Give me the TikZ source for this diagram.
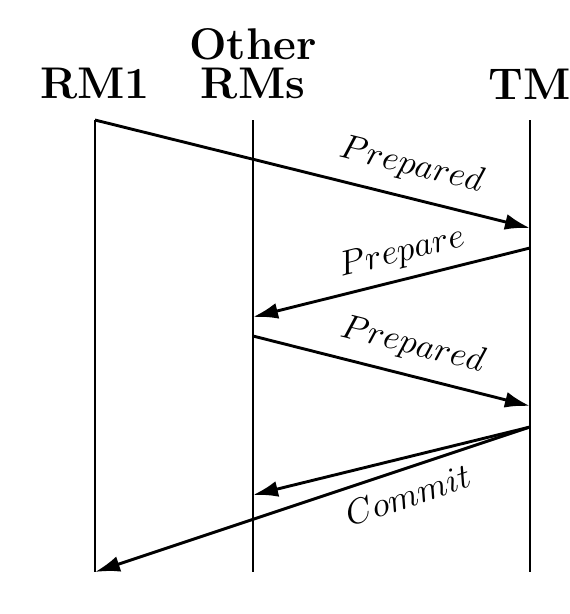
\documentclass[tikz,border=0pt]{standalone}
\usepackage{amsmath}
\usepackage{tikz}
\usetikzlibrary{arrows.meta,positioning,calc}

\tikzset{
	actor/.style={font=\large\bfseries, scale=1.063, inner sep=0pt, anchor=south, align=center},
	lifeline/.style={line width=1.45pt},
	msg/.style={line width=1.45pt, -{Latex[length=12.5pt,width=8pt]}},
	lbl/.style={sloped}
}

\begin{document}
\begin{tikzpicture}[every node/.style={scale=1.74}]
	\useasboundingbox (-1.669,-0.738) rectangle (8.347,10.052);
	% participants
	\node[actor] (rm1) at (0,8.294) {RM1};
	\node[actor] (oth) at (2.777,8.294) {Other\\[-3.5pt]RMs};
	\node[actor] (tm) at (7.644,8.294) {TM};
	% lifelines
	\coordinate (rm1top) at (0,7.943);
	\coordinate (rm1bot) at (0,0);
	\coordinate (othtop) at (2.777,7.943);
	\coordinate (othbot) at (2.777,0);
	\coordinate (tmtop) at (7.644,7.943);
	\coordinate (tmbot) at (7.644,0);
	\draw[lifeline] (rm1top) -- (rm1bot);
	\draw[lifeline] (othtop) -- (othbot);
	\draw[lifeline] (tmtop) -- (tmbot);
	% message points
	\coordinate (tm1) at (7.644,6.045);
	\coordinate (tm2) at (7.644,5.694);
	\coordinate (oth2) at (2.777,4.481);
	\coordinate (oth3) at (2.777,4.147);
	\coordinate (tm3) at (7.644,2.917);
	\coordinate (tm4) at (7.644,2.548);
	\coordinate (oth4) at (2.777,1.353);
	% messages
	\draw[msg] (rm1top) -- node[lbl, above=1pt, pos=0.71] {$Prepared$} (tm1);
	\draw[msg] (tm2) -- node[lbl, above=-1.5pt, pos=0.44] {$Prepare$} (oth2);
	\draw[msg] (oth3) -- node[lbl, above, pos=0.55] {$Prepared$} (tm3);
	\draw[msg] (tm4) -- (oth4);
	\draw[msg] (tm4) -- node[lbl, below, pos=0.30] {$Commit$} (rm1bot);
\end{tikzpicture}
\end{document}
